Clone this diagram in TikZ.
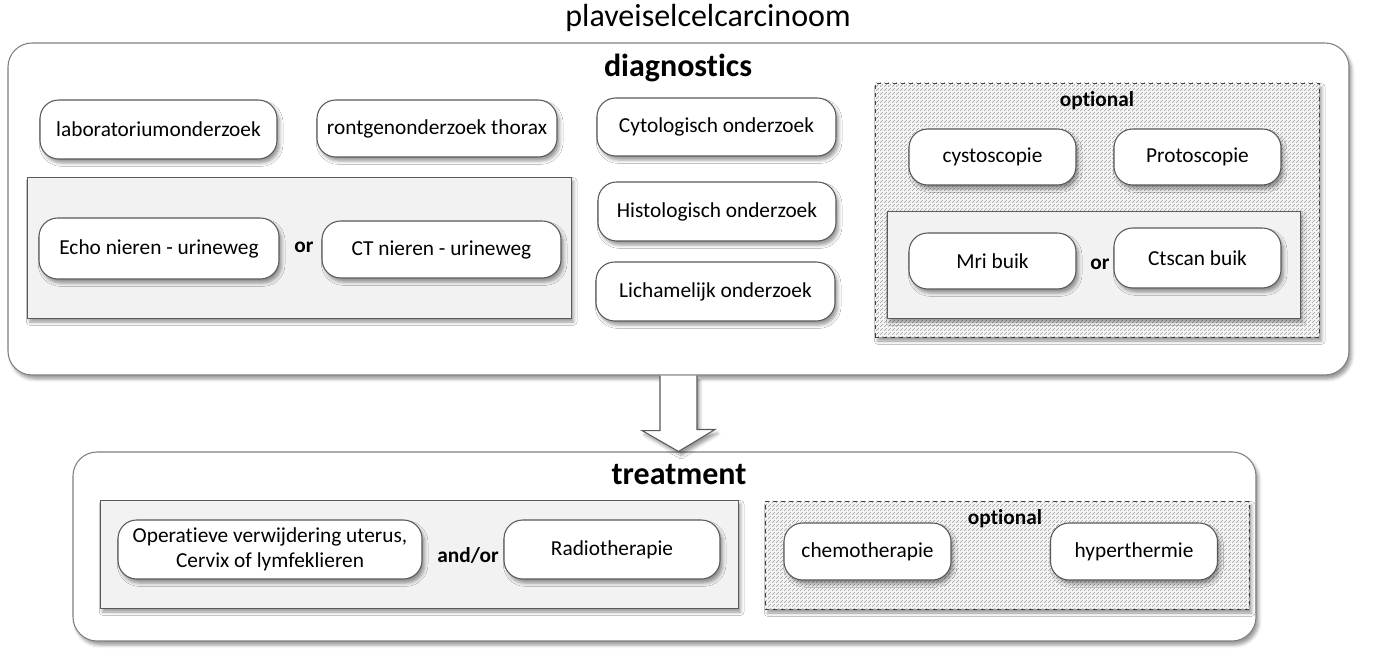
\documentclass[tikz,border=0pt]{standalone}
\usepackage{fontspec}
\setmainfont[Ligatures=NoCommon]{Carlito}
\usetikzlibrary{shadows.blur,patterns,fit,calc}
\definecolor{grpfill}{HTML}{F2F2F2}
\definecolor{edge}{HTML}{595959}
\definecolor{outeredge}{HTML}{7F7F7F}
\begin{document}
\begin{tikzpicture}[x=0.75pt,y=-0.75pt,
  shd/.style={blur shadow={shadow xshift=2pt,shadow yshift=-3pt,shadow blur radius=2.5pt,shadow opacity=40}},
  sz/.style 2 args={minimum width=#1*0.75pt,minimum height=#2*0.75pt},
  pill/.style={draw=edge,line width=0.8pt,fill=white,rounded corners=14pt,shd,
    font=\fontsize{16}{19}\selectfont,align=center,inner sep=0pt},
  outerbox/.style={draw=outeredge,line width=0.8pt,fill=white,rounded corners=18pt,shd,inner sep=0pt},
  grpbox/.style={draw=edge,line width=0.7pt,fill=grpfill,shd,inner sep=0pt},
  optbox/.style={draw=black!75,dashed,line width=0.6pt,shd,inner sep=0pt,
    preaction={fill=black!4},pattern=north east lines,pattern color=black!38},
  head/.style={font=\bfseries\fontsize{24}{28}\selectfont},
  conj/.style={font=\bfseries\fontsize{16}{19}\selectfont},
  blockarrow/.style={draw=edge,line width=0.8pt,fill=white,shd,line join=miter}
]
\useasboundingbox (0,0) rectangle (1377,659);

\node[font=\fontsize{24}{28}\selectfont] (title) at (708,18) {plaveiselcelcarcinoom};

% diagnostics
\node[outerbox,fit={(8,43) (1349,375)}] (diag) {};
\node[head] (diagt) at (678,68) {diagnostics};

\node[pill,sz={237}{59}] (lab) at (158.5,129.5) {laboratoriumonderzoek};
\node[pill,sz={240}{57}] (ront) at (437,128.5) {rontgenonderzoek thorax};
\node[pill,sz={239}{58}] (cyto) at (716.5,127) {Cytologisch onderzoek};
\node[pill,sz={238}{59}] (histo) at (717,211.5) {Histologisch onderzoek};
\node[pill,sz={239}{59}] (licha) at (715.5,291.5) {Lichamelijk onderzoek};

\node[grpbox,fit={(27,177) (571,318)}] (g1) {};
\node[pill,sz={240}{61}] (echo) at (159,248.5) {Echo nieren - urineweg};
\node[conj] (or1) at (304,247) {or};
\node[pill,sz={239}{57}] (ct) at (441.5,249.5) {CT nieren - urineweg};

\node[optbox,fit={(875,83) (1319,337)}] (opt1) {};
\node[conj] (opt1t) at (1097,101) {optional};
\node[pill,sz={167}{56}] (cysto) at (992.5,157) {cystoscopie};
\node[pill,sz={167}{56}] (proto) at (1197.5,157) {Protoscopie};
\node[grpbox,fit={(887,211) (1300,318)}] (g2) {};
\node[pill,sz={167}{56}] (mri) at (992.5,261) {Mri buik};
\node[conj] (or2) at (1100,264) {or};
\node[pill,sz={167}{60}] (ctscan) at (1197.5,258) {Ctscan buik};

% treatment
\node[outerbox,fit={(73,452) (1256,641)}] (treat) {};
\node[head] (treatt) at (679,475) {treatment};

\node[grpbox,fit={(100,500) (738,608)}] (g3) {};
\node[pill,sz={304}{59}] (oper) at (270,549.5) {Operatieve verwijdering uterus,\\Cervix of lymfeklieren};
\node[conj] (andor) at (468,555) {and/or};
\node[pill,sz={216}{59}] (radio) at (612,549.5) {Radiotherapie};

\node[optbox,fit={(765,501) (1249,609)}] (opt2) {};
\node[conj] (opt2t) at (1005,519) {optional};
\node[pill,sz={167}{57}] (chemo) at (867.5,551.5) {chemotherapie};
\node[pill,sz={167}{57}] (hyper) at (1134,551.5) {hyperthermie};

% block arrow from diagnostics to treatment
\coordinate (tip) at (diag.south |- treat.north);
\draw[blockarrow] ([xshift=-13.875pt]diag.south) -- ++(0,55) -- ++(-18,0) -- (tip)
  -- ++(36.5,-22) -- ++(-18,0) -- ([xshift=13.875pt]diag.south);
\end{tikzpicture}
\end{document}
